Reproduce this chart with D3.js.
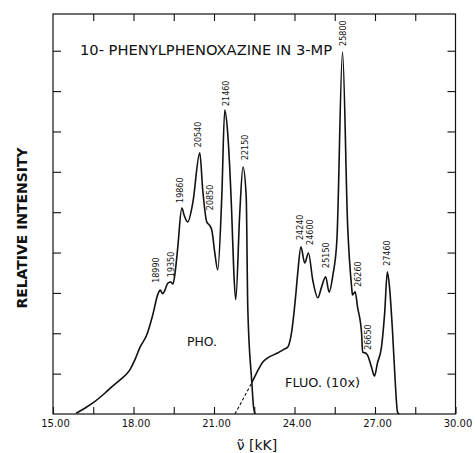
<!DOCTYPE html>
<html><head><meta charset="utf-8">
<script src="https://cdn.jsdelivr.net/npm/d3@7/dist/d3.min.js"></script>
<style>
html,body{margin:0;padding:0;background:#fff;}
svg{display:block;}
text{font-family:"DejaVu Sans",sans-serif;fill:#111;}
</style></head>
<body>
<svg id="c" width="475" height="453"></svg>
<script>
// ---- data (x in kK, y in relative intensity units) ----
const phoX = [15.86,16.2,16.5,16.94,17.2,17.49,17.87,18.05,18.24,18.5,18.72,18.91,19.0,19.08,19.16,19.28,19.39,19.47,19.55,19.65,19.80,19.9,20.02,20.21,20.47,20.58,20.73,20.85,20.92,21.03,21.14,21.29,21.40,21.51,21.66,21.74,21.81,21.96,22.08,22.2,22.26,22.41,22.47,22.53];
const phoY = [0.02,0.15,0.28,0.52,0.68,0.84,1.10,1.34,1.65,1.97,2.46,2.97,3.07,2.98,3.05,3.24,3.27,3.22,3.5,4.13,5.10,4.9,4.76,5.23,6.47,5.55,4.76,4.66,4.55,3.99,3.57,5.38,7.53,6.96,4.98,3.49,2.83,4.98,6.12,5.4,2.6,0.78,0.2,0];
const fluoDashX = [21.78,22.1,22.41];
const fluoDashY = [0,0.39,0.78];
const fluoX = [22.41,22.59,22.82,23.0,23.37,23.6,23.75,23.9,24.04,24.12,24.24,24.38,24.52,24.68,24.87,25.01,25.16,25.29,25.43,25.58,25.79,25.98,26.13,26.16,26.26,26.35,26.50,26.54,26.65,26.72,26.87,26.98,27.09,27.24,27.36,27.46,27.54,27.65,27.73,27.84,27.9];
const fluoY = [0.78,1.02,1.29,1.39,1.51,1.6,1.66,2.06,2.90,3.49,4.14,3.74,3.99,3.32,2.88,3.15,3.40,3.02,3.44,4.31,8.97,4.68,3.14,2.95,3.03,2.65,2.0,1.53,1.51,1.46,1.16,0.94,1.26,1.65,2.50,3.52,3.15,2.08,1.09,0.05,0];
// peak annotations: label, x (kK), y of label foot
const peakLabels = ["18990","19350","19860","20540","20850","21460","22150","24240","24600","25150","25800","26260","26650","27460"];
const peakLabelX = [18.85,19.41,19.74,20.41,20.86,21.45,22.16,24.20,24.57,25.17,25.80,26.36,26.73,27.44];
const peakLabelY = [3.25,3.39,5.23,6.61,5.05,7.63,6.29,4.31,4.19,3.62,9.12,3.15,1.59,3.67];
const xTicks = [15,16.5,18,19.5,21,22.5,24,25.5,27,28.5,30];
const xTickLabels = ["15.00","18.00","21.00","24.00","27.00","30.00"];
const yTicks = [1,2,3,4,5,6,7,8,9];
const title = "10- PHENYLPHENOXAZINE IN 3-MP";
const yTitle = "RELATIVE INTENSITY";
const xTitle = "\u03BD\u0303 [kK]";

// ---- layout ----
const L = 53, R = 455.5, T = 14, B = 414;
const svg = d3.select("#c");
const x = d3.scaleLinear().domain([15,30]).range([L,R]);
const y = d3.scaleLinear().domain([0,9.91]).range([B,T]);

// frame
svg.append("rect").attr("x",L).attr("y",T).attr("width",R-L).attr("height",B-T)
  .attr("fill","none").attr("stroke","#111").attr("stroke-width",1.2);

// axes with inward ticks
const gB = svg.append("g").attr("transform",`translate(0,${B})`)
  .call(d3.axisBottom(x).tickValues(xTicks).tickSize(-7).tickPadding(0)
    .tickFormat(d => { const s = d.toFixed(2); return xTickLabels.includes(s) ? s : ""; }));
gB.selectAll("text").attr("dy","1.3em").attr("dx","2").style("font-size","10px").attr("fill","#111");
const gT = svg.append("g").attr("transform",`translate(0,${T})`)
  .call(d3.axisTop(x).tickValues(xTicks.slice(1,-1)).tickSize(-7).tickFormat(""));
const gL = svg.append("g").attr("transform",`translate(${L},0)`)
  .call(d3.axisLeft(y).tickValues(yTicks).tickSize(-8).tickFormat(""));
const gR = svg.append("g").attr("transform",`translate(${R},0)`)
  .call(d3.axisRight(y).tickValues(yTicks).tickSize(-8).tickFormat(""));
[gB,gT,gL,gR].forEach(g => {
  g.select(".domain").remove();
  g.selectAll("line").attr("stroke","#111").attr("stroke-width",1.1);
});

// curves
const line = d3.line().x(d => x(d[0])).y(d => y(d[1])).curve(d3.curveMonotoneX);
const pho = phoX.map((v,i)=>[v,phoY[i]]);
const fluoD = fluoDashX.map((v,i)=>[v,fluoDashY[i]]);
const fluo = fluoX.map((v,i)=>[v,fluoY[i]]);
svg.append("path").attr("d",line(pho)).attr("fill","none").attr("stroke","#111").attr("stroke-width",1.6).attr("stroke-linejoin","round");
svg.append("path").attr("d",line(fluo)).attr("fill","none").attr("stroke","#111").attr("stroke-width",1.6).attr("stroke-linejoin","round");
svg.append("path").attr("d",line(fluoD)).attr("fill","none").attr("stroke","#111").attr("stroke-width",1.1).attr("stroke-dasharray","3,2.2");

// peak labels (vertical)
peakLabels.forEach((t,i) => {
  const px = x(peakLabelX[i]), py = y(peakLabelY[i]);
  svg.append("text").attr("transform",`translate(${px},${py}) rotate(-90)`)
    .attr("dy","0.35em").attr("text-anchor","start").style("font-size","8px").text(t);
});

// texts
svg.append("text").attr("x",80).attr("y",55).style("font-size","13.5px")
  .attr("textLength",252).attr("lengthAdjust","spacingAndGlyphs").text(title);
svg.append("text").attr("x",187).attr("y",345.5).style("font-size","11.5px")
  .attr("textLength",30).attr("lengthAdjust","spacingAndGlyphs").text("PHO.");
svg.append("text").attr("x",285).attr("y",386.5).style("font-size","12.5px")
  .attr("textLength",75).attr("lengthAdjust","spacingAndGlyphs").text("FLUO. (10x)");
svg.append("text").attr("transform","translate(27,228) rotate(-90)").attr("text-anchor","middle")
  .style("font-size","13.5px").style("font-weight","bold")
  .attr("textLength",161).attr("lengthAdjust","spacingAndGlyphs").text(yTitle);
svg.append("text").attr("x",257).attr("y",450).attr("text-anchor","middle").style("font-size","14px").text(xTitle);
</script>
</body></html>
